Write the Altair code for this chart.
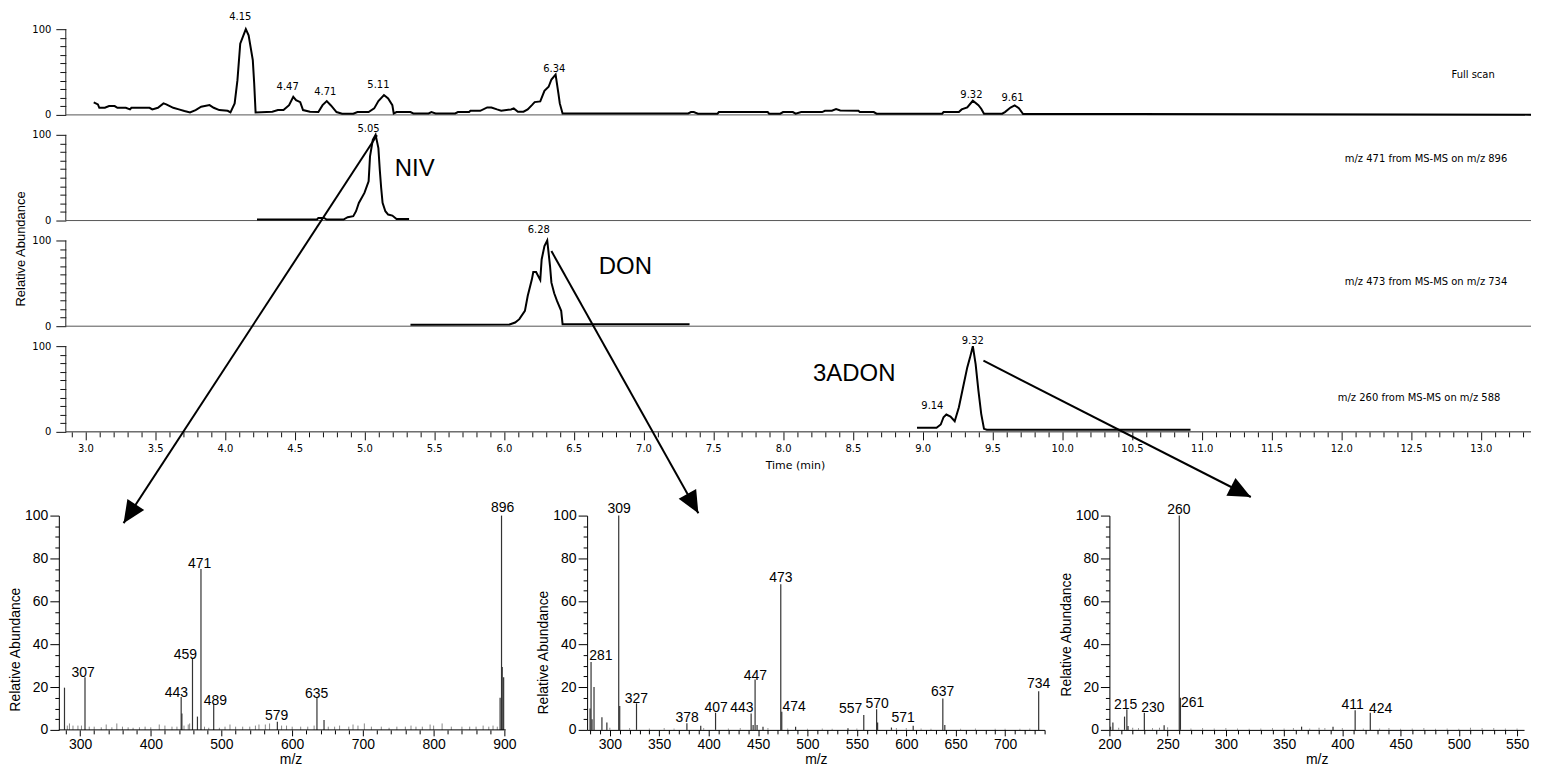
import altair as alt
import pandas as pd

CH_FONT = "DejaVu Sans"
SP_FONT = "Liberation Sans"

# ---------------- chromatogram traces: (time [min], relative abundance) ----------------
full_scan = [
    (3.06, 14.5), (3.09, 12.2), (3.10, 8.3), (3.14, 8.3), (3.17, 10.3), (3.21, 10.3),
    (3.23, 8.3), (3.29, 8.3), (3.32, 6.4), (3.33, 8.3), (3.46, 8.3), (3.48, 6.4),
    (3.52, 8.3), (3.56, 13.4), (3.58, 12.2), (3.63, 8.3), (3.67, 6.4), (3.71, 4.5),
    (3.75, 2.9), (3.79, 5.6), (3.83, 9.5), (3.89, 11.4), (3.92, 8.3), (3.96, 5.6),
    (4.02, 4.8), (4.04, 2.9), (4.07, 13.4), (4.09, 40.5), (4.11, 83.1), (4.15, 100.0),
    (4.17, 92.8), (4.20, 63.8), (4.21, 36.6), (4.22, 2.9), (4.34, 3.7), (4.38, 5.6),
    (4.42, 5.6), (4.46, 11.4), (4.49, 21.1), (4.51, 17.2), (4.54, 14.9), (4.56, 5.6),
    (4.61, 3.7), (4.67, 3.3), (4.70, 11.4), (4.73, 16.1), (4.76, 11.0), (4.80, 3.3),
    (4.84, 1.4), (4.92, 1.4), (4.95, 3.3), (5.03, 3.3), (5.07, 7.6), (5.10, 16.1),
    (5.14, 23.1), (5.17, 19.2), (5.20, 11.4), (5.21, 1.7), (5.23, 3.3), (5.33, 3.3),
    (5.35, 1.7), (5.46, 1.7), (5.48, 3.3), (5.51, 1.7), (5.65, 1.7), (5.67, 3.3),
    (5.75, 3.3), (5.76, 4.8), (5.83, 4.8), (5.88, 8.7), (5.91, 8.7), (5.95, 6.4),
    (5.98, 4.8), (6.05, 6.4), (6.07, 7.6), (6.10, 3.7), (6.14, 3.7), (6.17, 6.4),
    (6.20, 11.4), (6.22, 14.9), (6.26, 15.7), (6.29, 28.1), (6.32, 32.8), (6.34, 41.3),
    (6.37, 47.1), (6.39, 25.0), (6.40, 13.4), (6.42, 1.7), (7.32, 1.7), (7.34, 3.3),
    (7.36, 3.3), (7.39, 1.4), (7.53, 1.4), (7.54, 3.3), (7.89, 3.3), (7.90, 1.4),
    (7.98, 1.4), (8.00, 3.3), (8.07, 3.3), (8.09, 1.4), (8.13, 3.3), (8.28, 3.3),
    (8.30, 4.8), (8.35, 4.8), (8.38, 6.8), (8.41, 5.2), (8.54, 4.8), (8.55, 3.3),
    (8.65, 3.3), (8.67, 1.4), (9.14, 1.4), (9.15, 3.3), (9.26, 3.3), (9.28, 6.4),
    (9.32, 8.7), (9.36, 16.5), (9.40, 11.4), (9.42, 7.2), (9.44, 1.4), (9.57, 1.4),
    (9.59, 3.3), (9.63, 8.6), (9.66, 11.0), (9.69, 7.9), (9.72, 1.0), (10.50, 1.0),
    (11.50, 0.8), (12.50, 0.5), (13.36, 0.3),
]
niv_trace = [
    (4.23, 1.2), (4.66, 1.2), (4.67, 3.1), (4.71, 3.1), (4.73, 1.2), (4.85, 1.2),
    (4.88, 3.9), (4.92, 5.1), (4.94, 10.9), (4.96, 20.6), (5.00, 32.2), (5.03, 45.8),
    (5.04, 74.8), (5.06, 94.2), (5.08, 100.0), (5.10, 84.5), (5.11, 59.3), (5.12, 38.0),
    (5.13, 20.6), (5.15, 10.9), (5.17, 7.0), (5.20, 5.8), (5.23, 1.9), (5.32, 1.9),
]
don_trace = [
    (5.33, 1.6), (6.04, 2.0), (6.08, 4.3), (6.11, 8.2), (6.15, 17.9), (6.17, 35.3),
    (6.20, 54.7), (6.21, 63.2), (6.23, 63.2), (6.26, 53.9), (6.27, 77.9), (6.29, 93.4),
    (6.31, 100.0), (6.33, 70.2), (6.34, 50.8), (6.36, 38.4), (6.38, 29.5), (6.41, 17.9),
    (6.42, 2.4), (7.33, 2.4),
]
adon_trace = [
    (8.96, 4.7), (9.10, 4.7), (9.13, 8.6), (9.15, 17.1), (9.17, 20.2), (9.20, 17.9),
    (9.23, 12.4), (9.26, 28.7), (9.29, 52.0), (9.32, 75.2), (9.34, 86.9), (9.36, 100.0),
    (9.38, 79.0), (9.40, 48.0), (9.42, 21.0), (9.44, 3.5), (9.46, 2.4), (10.92, 2.4),
]

# retention-time labels: (panel, text, time, abundance at text baseline)
peak_labels = [
    (1, "4.15", 4.11, 110.2), (1, "4.47", 4.45, 28.8), (1, "4.71", 4.72, 23.0),
    (1, "5.11", 5.10, 30.8), (1, "6.34", 6.36, 50.2), (1, "9.32", 9.35, 20.0),
    (1, "9.61", 9.645, 16.5),
    (2, "5.05", 5.03, 103.0),
    (3, "6.28", 6.25, 109.0),
    (4, "9.32", 9.36, 102.0), (4, "9.14", 9.07, 26.7),
]
compound_labels = [(2, "NIV", 5.36, 60.0), (3, "DON", 6.87, 69.0), (4, "3ADON", 8.51, 68.0)]
trace_titles = [
    (1, "Full scan", 13.10, 47.0),
    (2, "m/z 471 from MS-MS on m/z 896", 13.19, 72.0),
    (3, "m/z 473 from MS-MS on m/z 734", 13.19, 52.0),
    (4, "m/z 260 from MS-MS on m/z 588", 13.14, 39.0),
]
# arrows drawn in the coordinates of the bottom chromatogram: (name, t0, v0, t1, v1, head angle)
arrows = [
    ("NIV", 5.09, 346.0, 3.274, -106.5, 213.2),
    ("DON", 6.34, 210.9, 7.393, -95.0, 150.6),
    ("3ADON", 9.436, 83.0, 11.352, -76.0, 116.9),
]

# ---------------- MS-MS spectra: (m/z, relative abundance) ----------------
niv_peaks = [(278, 19.7), (307, 24.6), (443, 15.4), (444, 7.7), (459, 33.1), (466, 6.2),
             (471, 75.1), (489, 12.3), (579, 3.8), (635, 15.4), (645, 4.6), (894, 15.0),
             (896, 100.0), (897, 29.4), (899, 24.6)]
niv_noise = [(282, 2), (285, 3), (290, 2), (297, 2), (302, 2), (313, 1.5), (320, 1.5), (330, 1.2),
             (337, 2.5), (345, 1.2), (352, 3), (360, 1.5), (368, 1.2), (375, 1), (384, 1.2),
             (392, 1.5), (400, 1.2), (412, 2.5), (420, 2), (430, 1.5), (437, 1.5), (447, 2),
             (453, 2.5), (455, 3), (476, 1.5), (482, 1), (497, 1), (505, 1.5), (512, 2.5),
             (520, 1.5), (530, 1.5), (540, 1.5), (548, 2), (553, 2.5), (562, 2.5), (568, 3),
             (585, 2), (592, 2), (600, 1.5), (612, 1.5), (622, 1.5), (631, 2), (651, 1.5),
             (660, 1.5), (667, 2), (680, 1.5), (686, 2.5), (693, 2), (702, 3), (712, 1.5),
             (726, 1.5), (737, 1), (748, 1.5), (760, 1.5), (768, 2), (775, 1.5), (784, 1.5),
             (795, 2.5), (800, 2), (812, 3), (825, 1.5), (840, 1.5), (851, 1.5), (860, 1.5),
             (870, 2), (878, 1.5), (884, 2), (890, 1.5)]
niv_labels = [("307", 304.2, 24.6), ("443", 436.3, 15.4), ("459", 449.0, 33.0),
              ("471", 469.1, 75.4), ("489", 491.2, 11.5), ("579", 578.1, 4.6),
              ("635", 634.5, 15.0), ("896", 897.6, 101.6)]

don_peaks = [(280, 10.0), (281, 31.7), (282, 5.0), (284, 20.0), (292, 5.9), (297, 3.4),
             (309, 100.0), (310, 11.1), (327, 12.4), (378, 3.1), (392, 1.9), (407, 8.0),
             (443, 7.7), (445, 2.3), (447, 23.5), (449, 2.3), (455, 1.5), (473, 68.0),
             (474, 8.5), (488, 1.5), (541, 0.8), (557, 7.0), (570, 9.6), (571, 3.4),
             (585, 1.1), (607, 1.9), (637, 14.7), (639, 2.3), (734, 18.0)]
don_noise = [(300, 1), (320, 0.8), (340, 0.6), (355, 0.8), (365, 0.6), (395, 0.8), (420, 0.6),
             (432, 0.8), (460, 0.8), (480, 0.6), (500, 0.5), (515, 0.6), (525, 0.5), (550, 0.6),
             (590, 0.8), (600, 0.8), (615, 0.6), (625, 0.5), (655, 0.5), (670, 0.6), (690, 0.5),
             (700, 0.5), (715, 0.5), (725, 0.6)]
don_labels = [("281", 290.9, 32.5), ("309", 309.4, 101.2), ("327", 326.8, 12.7),
              ("378", 378.3, 3.9), ("407", 407.5, 8.5), ("443", 433.7, 8.5),
              ("447", 447.2, 23.2), ("473", 473.1, 68.8), ("474", 486.6, 9.0),
              ("557", 543.7, 7.7), ("570", 570.6, 10.0), ("571", 596.8, 3.9),
              ("637", 636.9, 15.8), ("734", 734.0, 19.5)]

adon_peaks = [(201, 1.5), (203, 3.4), (213, 6.2), (215, 9.6), (216, 1.8), (230, 8.0),
              (247, 2.2), (260, 100.0), (261, 15.0), (365, 1.5), (392, 1.5), (411, 9.2),
              (424, 8.0)]
adon_noise = [(208, 1), (220, 1), (225, 0.8), (237, 0.8), (243, 1), (250, 1.2), (270, 0.6),
              (280, 0.8), (290, 0.6), (300, 0.8), (310, 0.6), (320, 0.5), (330, 0.6), (340, 0.8),
              (350, 0.6), (358, 0.8), (372, 0.6), (380, 1), (385, 0.8), (400, 0.8), (418, 0.6),
              (432, 0.6), (440, 0.8), (450, 0.5), (460, 0.6), (470, 0.8), (480, 0.5), (490, 0.6),
              (500, 0.5), (510, 1), (520, 0.8), (530, 0.8), (540, 0.6), (550, 0.6)]
adon_labels = [("215", 214.0, 9.6), ("230", 237.3, 8.3), ("260", 259.7, 100.8),
               ("261", 271.5, 10.6), ("411", 408.9, 9.6), ("424", 432.8, 8.0)]

# ---------------- axis tick lists ----------------
time_ticks = [round(2.9 + 0.1 * i, 1) for i in range(105)]
ch_y_ticks = list(range(0, 101, 10))
sp_y_ticks = list(range(0, 101, 5))
niv_x_ticks = list(range(280, 901, 20))
don_x_ticks = list(range(280, 741, 10))
adon_x_ticks = list(range(200, 551, 10))

# ---------------- layout constants ----------------
T_MIN, T_AXIS, T_MAX = 2.81, 2.86, 13.36
CH_W, CH_H, CH_TOP = 1477, 106, 123.26
SP_H = 215
GAP = 84

MAJOR_T = "abs(datum.value * 2 - round(datum.value * 2)) < 0.001"


def chrom_panel(idx, trace, bottom=False, with_title=False, with_arrows=False):
    xs = alt.Scale(domain=[T_MIN, T_MAX], nice=False, zero=False)
    ys = alt.Scale(domain=[0, CH_TOP], nice=False)
    if bottom:
        xa = alt.Axis(values=time_ticks, domain=False, grid=False,
                      tickSize={"condition": {"test": MAJOR_T, "value": 8}, "value": 5},
                      tickColor="#111",
                      labelExpr=f"{MAJOR_T} ? format(datum.value, '.1f') : ''",
                      labelFont=CH_FONT, labelFontSize=10, labelPadding=4, labelColor="black",
                      labelFlush=False, labelOverlap=False,
                      titleFont=CH_FONT, titleFontSize=11, titleFontWeight="normal",
                      titleColor="black", titlePadding=6)
    ykw = dict(values=ch_y_ticks, domain=False, grid=False, offset=-7,
               tickSize={"condition": {"test": "datum.value == 0 || datum.value == 100", "value": 10},
                         "value": 6},
               tickColor="#111",
               labelExpr="datum.value == 0 || datum.value == 100 ? datum.label : ''",
               labelFont=CH_FONT, labelFontSize=10, labelPadding=5, labelColor="black",
               labelOverlap=False, labelFlush=False)
    if with_title:
        ykw.update(titleFont=SP_FONT, titleFontSize=13, titleFontWeight="normal",
                   titleColor="black", titleY=28, titlePadding=4)
    ya = alt.Axis(**ykw)

    def X(f):
        if bottom:
            return alt.X(f, type="quantitative", scale=xs, axis=xa, title="Time (min)")
        return alt.X(f, type="quantitative", scale=xs, axis=None)

    def Y(f):
        if with_title:
            return alt.Y(f, type="quantitative", scale=ys, axis=ya, title="Relative Abundance")
        return alt.Y(f, type="quantitative", scale=ys, axis=ya, title=None)

    frame = pd.DataFrame({"t0": [T_AXIS], "t1": [T_MAX], "z": [0], "top": [100]})
    tr = pd.DataFrame(trace, columns=["t", "v"])
    pk = pd.DataFrame([p[1:] for p in peak_labels if p[0] == idx], columns=["text", "t", "v"])
    cp = pd.DataFrame([p[1:] for p in compound_labels if p[0] == idx], columns=["text", "t", "v"])
    tt = pd.DataFrame([p[1:] for p in trace_titles if p[0] == idx], columns=["text", "t", "v"])

    layers = [
        alt.Chart(frame).mark_rule(color="#222" if bottom else "#555", strokeWidth=1).encode(
            x=X("t0"), x2="t1", y=Y("z")),
        alt.Chart(frame).mark_rule(color="#222", strokeWidth=1).encode(
            x=X("t0"), y=Y("z"), y2="top"),
        alt.Chart(tr).mark_line(color="black", strokeWidth=2).encode(x=X("t"), y=Y("v")),
        alt.Chart(pk).mark_text(font=CH_FONT, fontSize=10, baseline="alphabetic", align="center",
                                color="black").encode(x=X("t"), y=Y("v"), text="text:N"),
        alt.Chart(tt).mark_text(font=CH_FONT, fontSize=10, baseline="middle", align="right",
                                color="black").encode(x=X("t"), y=Y("v"), text="text:N"),
    ]
    if len(cp):
        layers.append(alt.Chart(cp).mark_text(font=SP_FONT, fontSize=24, baseline="middle",
                                              align="center", color="black").encode(
            x=X("t"), y=Y("v"), text="text:N"))
    if with_arrows:
        ar = pd.DataFrame(arrows, columns=["name", "t0", "v0", "t1", "v1", "ang"])
        layers.append(alt.Chart(ar).mark_rule(color="black", strokeWidth=2).encode(
            x=X("t0"), x2="t1", y=Y("v0"), y2="v1"))
        layers.append(alt.Chart(ar).mark_point(shape="M0,0L0.45,1L-0.45,1Z", filled=True,
                                               size=2000, color="black", opacity=1).encode(
            x=X("t1"), y=Y("v1"), angle=alt.Angle("ang:Q", scale=None)))
    return alt.layer(*layers).properties(width=CH_W, height=CH_H)


def spectrum(peaks, noise, labels, domain, width, x_ticks, major, title_y, axis_end=None):
    xs = alt.Scale(domain=domain, nice=False, zero=False)
    ys = alt.Scale(domain=[0, 100], nice=False)
    test = f"datum.value % {major} == 0"
    xa = alt.Axis(values=x_ticks, domain=axis_end is None, domainColor="black", grid=False,
                  tickSize={"condition": {"test": test, "value": 6}, "value": 4},
                  tickColor="black", labelExpr=f"{test} ? datum.label : ''",
                  labelFont=SP_FONT, labelFontSize=14, labelPadding=2, labelColor="black",
                  labelFlush=False, labelOverlap=False,
                  titleFont=SP_FONT, titleFontSize=14, titleFontWeight="normal",
                  titleColor="black", titlePadding=1)
    ya = alt.Axis(values=sp_y_ticks, domainColor="black", grid=False,
                  tickSize={"condition": {"test": "datum.value % 20 == 0", "value": 9}, "value": 4},
                  tickColor="black", labelExpr="datum.value % 20 == 0 ? datum.label : ''",
                  labelFont=SP_FONT, labelFontSize=14, labelPadding=2, labelColor="black",
                  labelFlush=False, labelOverlap=False,
                  titleFont=SP_FONT, titleFontSize=14, titleFontWeight="normal",
                  titleColor="black", titleY=title_y, titlePadding=2)

    def X(f):
        return alt.X(f, type="quantitative", scale=xs, axis=xa, title="m/z")

    def Y(f):
        return alt.Y(f, type="quantitative", scale=ys, axis=ya, title="Relative Abundance")

    nz = pd.DataFrame(noise, columns=["mz", "v"])
    nz["z"] = 0
    pk = pd.DataFrame(peaks, columns=["mz", "v"])
    pk["z"] = 0
    lb = pd.DataFrame(labels, columns=["text", "mz", "v"])
    layers = [
        alt.Chart(nz).mark_rule(color="#888", strokeWidth=1).encode(x=X("mz"), y=Y("z"), y2="v"),
        alt.Chart(pk).mark_rule(color="#333", strokeWidth=1.2).encode(x=X("mz"), y=Y("z"), y2="v"),
        alt.Chart(lb).mark_text(font=SP_FONT, fontSize=14, baseline="alphabetic", align="center",
                                color="black").encode(x=X("mz"), y=Y("v"), text="text:N"),
    ]
    if axis_end is not None:
        ax = pd.DataFrame({"a": [domain[0]], "b": [axis_end], "z": [0]})
        layers.append(alt.Chart(ax).mark_rule(color="black", strokeWidth=1).encode(
            x=X("a"), x2="b", y=Y("z")))
    return alt.layer(*layers).properties(width=width, height=SP_H)


p1 = chrom_panel(1, full_scan)
p2 = chrom_panel(2, niv_trace)
p3 = chrom_panel(3, don_trace, with_title=True)
p4 = chrom_panel(4, adon_trace, bottom=True, with_arrows=True)

# invisible spacer that reserves the vertical gap between the chromatograms and the spectra
spacer = alt.Chart(pd.DataFrame({"a": [0]})).mark_point(opacity=0).encode(
    x=alt.X("a:Q", axis=None), y=alt.Y("a:Q", axis=None)
).properties(width=10, height=GAP)

s1 = spectrum(niv_peaks, niv_noise, niv_labels, [270, 925.4], 465, niv_x_ticks, 100, 134, axis_end=902)
s2 = spectrum(don_peaks, don_noise, don_labels, [277, 740], 459, don_x_ticks, 50, 137)
s3 = spectrum(adon_peaks, adon_noise, adon_labels, [200, 556], 416, adon_x_ticks, 50, 119)
spectra = alt.hconcat(s1, s2, s3, spacing=65, bounds="flush")

chart = alt.vconcat(p1, p2, p3, p4, spacer, spectra, spacing=0, bounds="flush").properties(
    padding=0, background="white"
).configure_view(stroke="transparent", strokeWidth=0)

chart.save("out.html", embed_options={"renderer": "svg", "actions": False})
